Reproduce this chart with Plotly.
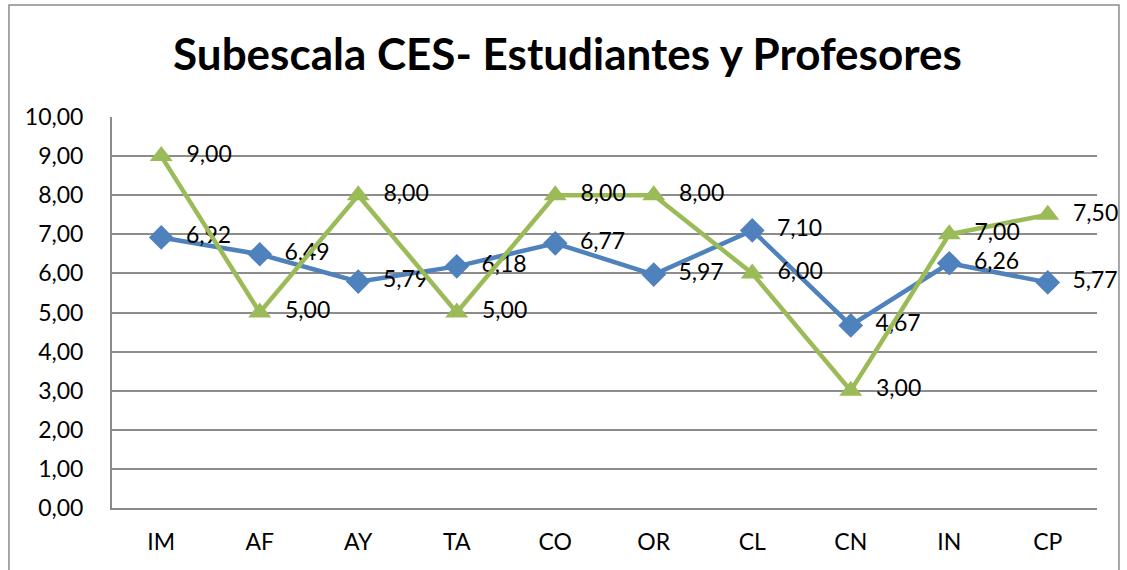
import plotly.graph_objects as go

categories = ["IM", "AF", "AY", "TA", "CO", "OR", "CL", "CN", "IN", "CP"]
estudiantes = [6.92, 6.49, 5.79, 6.18, 6.77, 5.97, 7.10, 4.67, 6.26, 5.77]
profesores = [9.00, 5.00, 8.00, 5.00, 8.00, 8.00, 6.00, 3.00, 7.00, 7.50]
title = "Subescala CES- Estudiantes y Profesores"

FONT = "Lato"
fig = go.Figure()
fig.add_trace(go.Scatter(
    x=categories, y=estudiantes, mode="lines+markers+text",
    line=dict(color="#4F81BD", width=4.5),
    marker=dict(symbol="diamond", size=19, color="#4F81BD"),
    texttemplate="  %{y:.2f}", textposition="middle right",
    textfont=dict(family=FONT, size=23, color="black"),
    cliponaxis=False, name="Estudiantes"))
fig.add_trace(go.Scatter(
    x=categories, y=profesores, mode="lines+markers+text",
    line=dict(color="#9BBB59", width=4.5),
    marker=dict(symbol="triangle-up", size=20, color="#9BBB59"),
    texttemplate="  %{y:.2f}", textposition="middle right",
    textfont=dict(family=FONT, size=23, color="black"),
    cliponaxis=False, name="Profesores"))

fig.update_layout(
    width=1127, height=570,
    margin=dict(l=112, r=30, t=117, b=62),
    paper_bgcolor="white", plot_bgcolor="white",
    separators=",.",
    showlegend=False,
    title=dict(text="<b>" + title + "</b>", x=0.5035, xanchor="center",
               y=0.904, yanchor="middle",
               font=dict(family=FONT, size=44, color="black")),
    font=dict(family=FONT, size=23, color="black"),
    xaxis=dict(type="category", range=[-0.5, 9.5], showgrid=False,
               showline=True, linecolor="#898989", linewidth=2,
               ticks="", tickfont=dict(size=23), ticklabelstandoff=12),
    yaxis=dict(range=[0, 10], dtick=1, tickformat=".2f",
               showgrid=True, gridcolor="#8c8c8c", gridwidth=1.5,
               showline=True, linecolor="#898989", linewidth=2,
               mirror=False, zeroline=False, ticks="",
               tickfont=dict(size=23), ticklabelstandoff=22),
    shapes=[dict(type="rect", xref="paper", yref="paper",
                 x0=-0.1046, x1=1.0223, y0=-0.2, y1=1.2864,
                 line=dict(color="#8c8c8c", width=1.5), fillcolor="rgba(0,0,0,0)",
                 layer="below")],
)
fig.write_html("out.html", config={"displayModeBar": False},
               post_script="document.body.style.margin='0';document.body.style.padding='0';")
